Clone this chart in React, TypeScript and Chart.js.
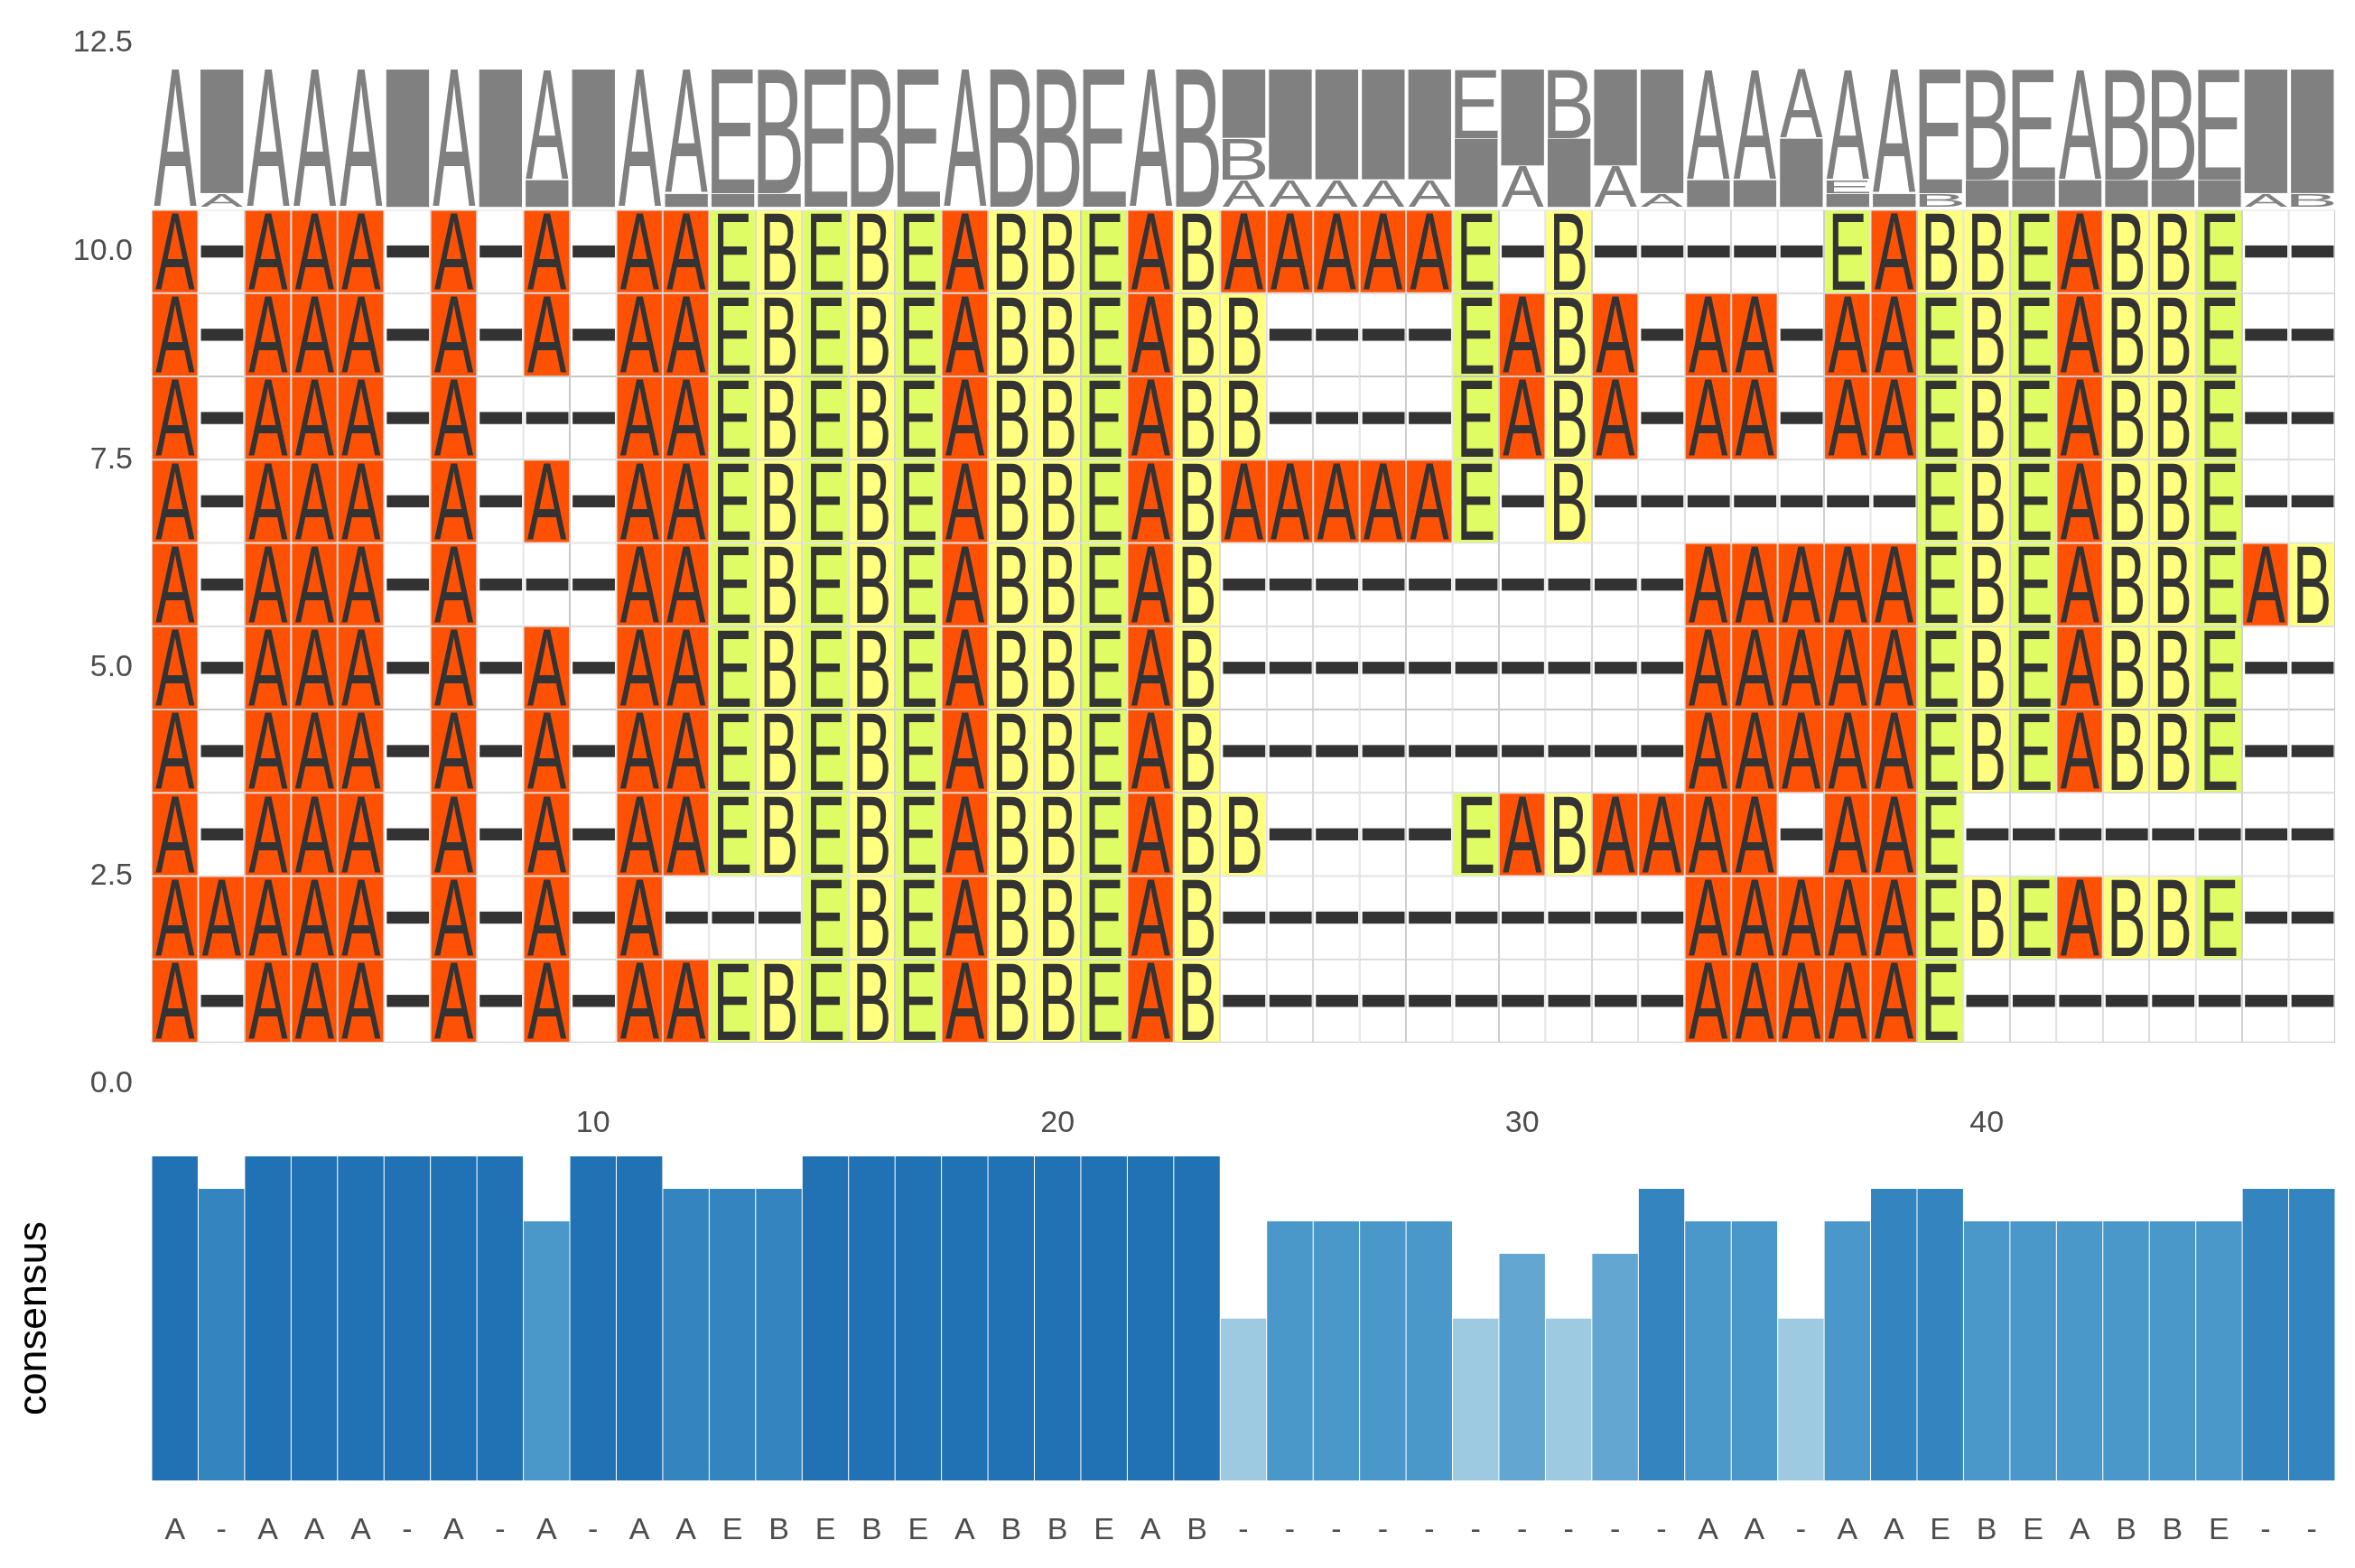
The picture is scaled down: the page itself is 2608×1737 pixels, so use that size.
import React, { useEffect, useRef } from 'react';
import { Chart, registerables } from 'chart.js';

Chart.register(...registerables);

// ---------- data ----------
const positions = Array.from({ length: 47 }, (_, i) => i + 1);
const rowPositions = [1, 2, 3, 4, 5, 6, 7, 8, 9, 10];

// alignment rows, listed from y = 1 (bottom row) to y = 10 (top row)
const seqRow1 = 'A-AAA-A-A-AAEBEBEABBEAB----------AAAAAE--------';
const seqRow2 = 'AAAAA-A-A-A---EBEABBEAB----------AAAAAEBEABBE--';
const seqRow3 = 'A-AAA-A-A-AAEBEBEABBEABB----EABAAAA-AAE--------';
const seqRow4 = 'A-AAA-A-A-AAEBEBEABBEAB----------AAAAAEBEABBE--';
const seqRow5 = 'A-AAA-A-A-AAEBEBEABBEAB----------AAAAAEBEABBE--';
const seqRow6 = 'A-AAA-A---AAEBEBEABBEAB----------AAAAAEBEABBEAB';
const seqRow7 = 'A-AAA-A-A-AAEBEBEABBEABAAAAAE-B-------EBEABBE--';
const seqRow8 = 'A-AAA-A---AAEBEBEABBEABB----EABA-AA-AAEBEABBE--';
const seqRow9 = 'A-AAA-A-A-AAEBEBEABBEABB----EABA-AA-AAEBEABBE--';
const seqRow10 = 'A-AAA-A-A-AAEBEBEABBEABAAAAAE-B-----EABBEABBE--';
const alignmentRows = [seqRow1, seqRow2, seqRow3, seqRow4, seqRow5, seqRow6, seqRow7, seqRow8, seqRow9, seqRow10];

const consensusChars = 'A-AAA-A-A-AAEBEBEABBEAB----------AA-AAEBEABBE--'.split('');
const consensusValues = [
  1, 0.9, 1, 1, 1, 1, 1, 1, 0.8, 1,
  1, 0.9, 0.9, 0.9, 1, 1, 1, 1, 1, 1,
  1, 1, 1, 0.5, 0.8, 0.8, 0.8, 0.8, 0.5, 0.7,
  0.5, 0.7, 0.9, 0.8, 0.8, 0.5, 0.8, 0.9, 0.9, 0.8,
  0.8, 0.8, 0.8, 0.8, 0.8, 0.9, 0.9,
];

const xTickValues = [10, 20, 30, 40];
const yTickValues = [0, 2.5, 5, 7.5, 10, 12.5];

// ---------- styles ----------
const GLYPH_FONT = '"Liberation Sans", Arial, Helvetica, sans-serif';
const LABEL_FONT = '"Liberation Sans", Arial, Helvetica, sans-serif';
const LETTER_COLOR = '#333333';
const LOGO_COLOR = '#808080';
const CELL_BORDER = '#c8c8c8';
const LOGO_BASE = 10.53;
const LOGO_HEIGHT = 1.66;

const cellColor = (ch: string) => {
  if (ch === 'A') return '#ff5104';
  if (ch === 'E') return '#dffc64';
  if (ch === 'B') return '#ffff80';
  return '#ffffff';
};

const shade = (v: number) => {
  if (v >= 0.99) return '#2171b5';
  if (v >= 0.89) return '#3484c0';
  if (v >= 0.79) return '#4a97c9';
  if (v >= 0.69) return '#63a6d1';
  return '#9ecae1';
};

function drawGlyph(
  ctx: CanvasRenderingContext2D,
  ch: string,
  left: number,
  right: number,
  top: number,
  bottom: number,
  inkWidth: boolean
) {
  ctx.save();
  ctx.font = `200px ${GLYPH_FONT}`;
  ctx.textAlign = 'left';
  ctx.textBaseline = 'alphabetic';
  const m = ctx.measureText(ch);
  const srcL = inkWidth ? -m.actualBoundingBoxLeft : 0;
  const srcR = inkWidth ? m.actualBoundingBoxRight : m.width;
  const asc = m.actualBoundingBoxAscent;
  const desc = m.actualBoundingBoxDescent;
  const sx = (right - left) / (srcR - srcL);
  const sy = (bottom - top) / (asc + desc);
  ctx.translate(left - srcL * sx, top + asc * sy);
  ctx.scale(sx, sy);
  ctx.fillText(ch, 0, 0);
  ctx.restore();
}

const glyphPlugin = {
  id: 'msaGlyphs',
  afterDatasetsDraw(chart: any) {
    const ctx: CanvasRenderingContext2D = chart.ctx;
    const x = chart.scales.x;
    const y = chart.scales.y;
    ctx.save();
    // letters in alignment cells
    alignmentRows.forEach((seq, ri) => {
      const row = rowPositions[ri];
      positions.forEach((pos, ci) => {
        const ch = seq[ci];
        const left = x.getPixelForValue(pos - 0.5);
        const right = x.getPixelForValue(pos + 0.5);
        const top = y.getPixelForValue(row + 0.5);
        const bottom = y.getPixelForValue(row - 0.5);
        const w = right - left;
        const h = bottom - top;
        ctx.fillStyle = LETTER_COLOR;
        if (ch === '-') {
          const t = h * 0.145;
          ctx.fillRect(left + w * 0.06, (top + bottom) / 2 - t / 2, w * 0.91, t);
        } else {
          drawGlyph(ctx, ch, left + w * 0.085, right - w * 0.075, top + h * 0.045, bottom - h * 0.035, false);
        }
      });
    });
    // sequence logo
    ctx.fillStyle = LOGO_COLOR;
    positions.forEach((pos, ci) => {
      const counts: Record<string, number> = {};
      alignmentRows.forEach((seq) => {
        counts[seq[ci]] = (counts[seq[ci]] || 0) + 1;
      });
      const entries = Object.entries(counts).sort((a, b) => a[1] - b[1] || (a[0] < b[0] ? -1 : 1));
      const l0 = x.getPixelForValue(pos - 0.5);
      const r0 = x.getPixelForValue(pos + 0.5);
      const inset = (r0 - l0) * 0.05;
      const left = l0 + inset;
      const right = r0 - inset * 0.6;
      let base = LOGO_BASE;
      entries.forEach(([ch, n]) => {
        const hv = (n / alignmentRows.length) * LOGO_HEIGHT;
        const pb = y.getPixelForValue(base);
        const pt = y.getPixelForValue(base + hv);
        base += hv;
        if (ch === '-') {
          ctx.fillRect(left, pt + 0.5, right - left, pb - pt - 1);
        } else {
          drawGlyph(ctx, ch, left, right, pt + 0.5, pb - 0.5, true);
        }
      });
    });
    ctx.restore();
  },
};

export default function App() {
  const topRef = useRef<HTMLCanvasElement>(null);
  const botRef = useRef<HTMLCanvasElement>(null);

  useEffect(() => {
    document.body.style.margin = '0';
    const tickFont = { family: LABEL_FONT, size: 34 };

    const rowDatasets = alignmentRows.map((seq, ri) => ({
      data: positions.map((p) => ({ x: p, y: [rowPositions[ri] - 0.5, rowPositions[ri] + 0.5] })),
      backgroundColor: positions.map((_, ci) => cellColor(seq[ci])),
      borderColor: CELL_BORDER,
      borderWidth: 1,
      borderSkipped: false,
      inflateAmount: 0,
      grouped: false,
      barPercentage: 1,
      categoryPercentage: 1,
    }));

    const top = new Chart(topRef.current!, {
      type: 'bar',
      data: { datasets: rowDatasets as any },
      options: {
        responsive: false,
        animation: false,
        layout: { padding: { left: 0, right: 22, top: 48, bottom: 0 } },
        plugins: { legend: { display: false }, tooltip: { enabled: false } },
        scales: {
          x: {
            type: 'linear',
            min: 0.5,
            max: 47.5,
            offset: false,
            grid: { display: false, drawTicks: false },
            border: { display: false },
            afterBuildTicks: (s: any) => {
              s.ticks = xTickValues.map((v) => ({ value: v }));
            },
            afterFit: (s: any) => {
              s.height = 61;
            },
            ticks: {
              padding: 23,
              autoSkip: false,
              maxRotation: 0,
              font: tickFont,
              color: '#4d4d4d',
              callback: (v: any) => String(v),
            },
          },
          y: {
            type: 'linear',
            min: 0,
            max: 12.5,
            grid: { display: false, drawTicks: false },
            border: { display: false },
            afterBuildTicks: (s: any) => {
              s.ticks = yTickValues.map((v) => ({ value: v }));
            },
            afterFit: (s: any) => {
              s.width = 168;
            },
            ticks: {
              padding: 21,
              font: tickFont,
              color: '#4d4d4d',
              callback: (v: any) => Number(v).toFixed(1),
            },
          },
        },
      } as any,
      plugins: [glyphPlugin],
    });

    const bot = new Chart(botRef.current!, {
      type: 'bar',
      data: {
        datasets: [
          {
            data: positions.map((p, i) => ({ x: p, y: consensusValues[i] })),
            backgroundColor: consensusValues.map(shade),
            borderColor: 'rgba(255,255,255,0.12)',
            borderWidth: { left: 0.5, right: 0.5, top: 0, bottom: 0 },
            inflateAmount: 0,
            barPercentage: 1,
            categoryPercentage: 1,
          } as any,
        ],
      },
      options: {
        responsive: false,
        animation: false,
        layout: { padding: { left: 0, right: 22, top: 19, bottom: 0 } },
        plugins: { legend: { display: false }, tooltip: { enabled: false } },
        scales: {
          x: {
            type: 'linear',
            min: 0.5,
            max: 47.5,
            offset: false,
            grid: { display: false, drawTicks: false },
            border: { display: false },
            afterBuildTicks: (s: any) => {
              s.ticks = positions.map((v) => ({ value: v }));
            },
            afterFit: (s: any) => {
              s.height = 97;
            },
            ticks: {
              padding: 35,
              autoSkip: false,
              maxRotation: 0,
              font: tickFont,
              color: '#4d4d4d',
              callback: (v: any) => consensusChars[Math.round(Number(v)) - 1] ?? '',
            },
          },
          y: {
            type: 'linear',
            min: 0,
            max: 1,
            grid: { display: false, drawTicks: false },
            border: { display: false },
            ticks: { display: false },
            afterFit: (s: any) => {
              s.width = 168;
            },
            title: {
              display: true,
              text: 'consensus',
              color: '#000000',
              font: { family: LABEL_FONT, size: 45 },
              padding: { top: 12, bottom: 0 },
            },
          },
        },
      } as any,
    });

    return () => {
      top.destroy();
      bot.destroy();
    };
  }, []);

  return (
    <div style={{ position: 'absolute', left: 0, top: 0, width: 2608, height: 1737, background: '#ffffff' }}>
      <canvas
        ref={topRef}
        width={2608}
        height={1262}
        style={{ position: 'absolute', left: 0, top: 0, width: 2608, height: 1262 }}
      />
      <canvas
        ref={botRef}
        width={2608}
        height={475}
        style={{ position: 'absolute', left: 0, top: 1262, width: 2608, height: 475 }}
      />
    </div>
  );
}
